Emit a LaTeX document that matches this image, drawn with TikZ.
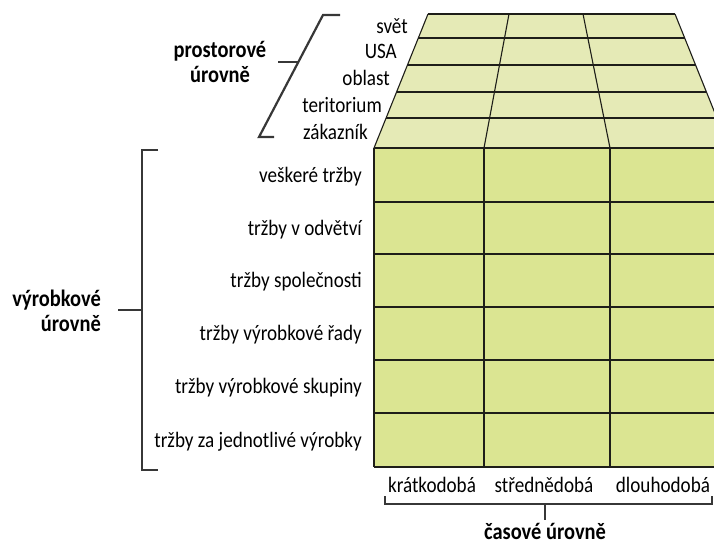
\documentclass[tikz,border=0pt]{standalone}
\usepackage{fontspec}
\setmainfont{Carlito}[FakeStretch=0.87]

\definecolor{frontgreen}{RGB}{219,229,146}
\definecolor{topgreen}{RGB}{229,234,182}
\definecolor{gridline}{RGB}{30,30,25}
\definecolor{bracegray}{RGB}{55,55,55}

\begin{document}
\begin{tikzpicture}[x=1pt,y=1pt]
            \tikzstyle{every node}+=[inner sep=0pt]
            \tikzstyle{level}=[font=\fontsize{22}{24}\selectfont]
            \tikzstyle{group}=[font=\fontsize{23.5}{25}\selectfont\bfseries]
            \tikzstyle{grid}=[gridline, line width=1.1pt]
            \tikzstyle{brace}=[bracegray, line width=2.2pt]
            \clip (0,0) rectangle (714,-552);
            % top face, drawn in perspective
            \fill [topgreen] (428,-14) -- (675,-14) -- (729,-148) -- (374,-148) -- cycle;
            \foreach \y in {14,38,65,92,118}
                \draw [grid] ({428-0.403*(\y-14)},-\y) -- ({675+0.403*(\y-14)},-\y);
            \draw [grid] (428,-14) -- (374,-148);
            \draw [grid] (509,-14) -- (484,-148);
            \draw [grid] (583,-14) -- (610,-148);
            \draw [grid] (675,-14) -- (729,-148);
            % front face
            \fill [frontgreen] (374,-148) rectangle (729,-467);
            \foreach \y in {148,202,254,307,360,413,467}
                \draw [grid] (374,-\y) -- (729,-\y);
            \foreach \x in {374,484,610}
                \draw [grid] (\x,-148) -- (\x,-467);
            % space levels
            \foreach \t/\x/\y [count=\i] in {svět/408/26, USA/397/51, oblast/390/78, teritorium/382/105, zákazník/368/132}
                \node [level, anchor=base east] (area\i) at (\x,{-\y-7}) {\t};
            % product levels
            \foreach \t/\y [count=\i] in {veškeré tržby/175, tržby v odvětví/228, tržby společnosti/280.5, tržby výrobkové řady/333.5, tržby výrobkové skupiny/386.5, tržby za jednotlivé výrobky/440}
                \node [level, anchor=base east] (sales\i) at (362,{-\y-7}) {\t};
            % time levels
            \node [level, anchor=base] (short) at (432,-492) {krátkodobá};
            \node [level, anchor=base] (mid) at (544,-492) {střednědobá};
            \node [level, anchor=base] (long) at (663,-492) {dlouhodobá};
            % brackets
            \draw [brace] (340,-15) -- (323,-15) -- (259,-137) -- (274,-137);
            \draw [brace] (298,-62) -- (278,-62);
            \node [group, align=center] (spacelvl) at (220,-62) {prostorové\\úrovně};
            \draw [brace] (158,-150) -- (142,-150) -- (142,-470) -- (158,-470);
            \draw [brace] (142,-310) -- (118,-310);
            \node [group, align=right, anchor=east] (productlvl) at (101,-311) {výrobkové\\úrovně};
            \draw [brace] (385,-496) -- (385,-504) -- (712,-504) -- (712,-496);
            \draw [brace] (545,-504) -- (545,-520);
            \node [group, anchor=base] (timelvl) at (545,-539) {časové úrovně};
        \end{tikzpicture}
\end{document}
